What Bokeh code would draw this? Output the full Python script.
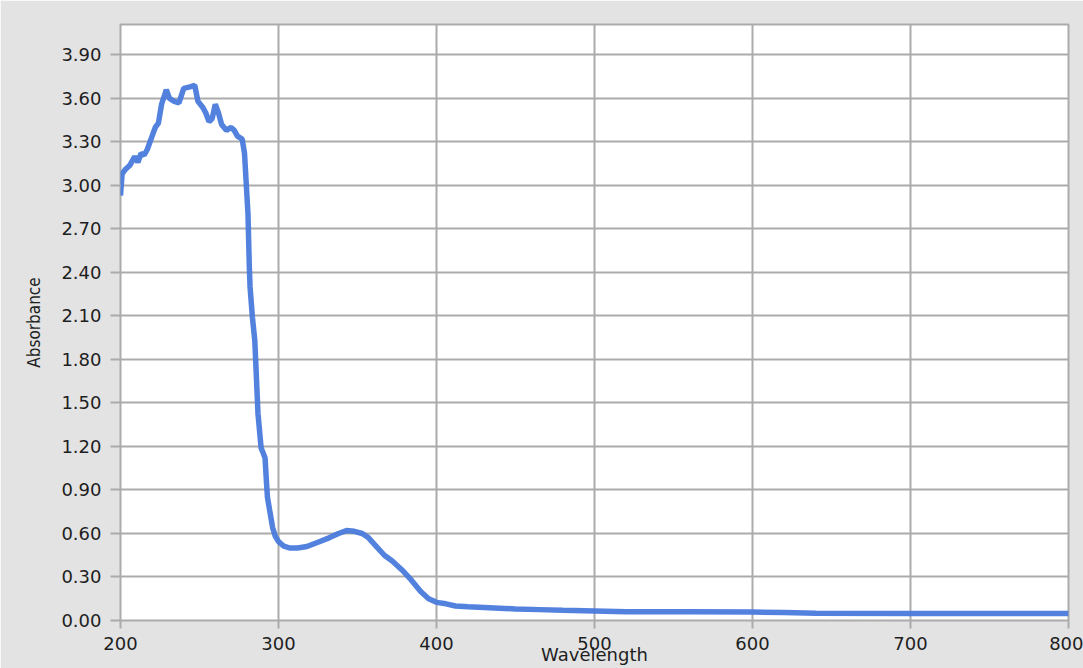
from bokeh.plotting import figure
from bokeh.models import Range1d, FixedTicker, NumeralTickFormatter
from bokeh.embed import file_html
from bokeh.resources import INLINE

wavelength = [200, 201, 203, 206, 209, 211, 213, 215, 217, 220, 222, 224, 226, 229, 231, 234, 237,
              240, 244, 247, 249, 252, 254, 256, 258, 260, 262, 264, 267, 270, 272, 274, 277,
              278.5, 279.7, 280.7, 281.5, 282, 283.5, 285, 286, 287, 289, 290.5, 291.5, 292.3,
              293, 294.4, 296.3, 298, 300, 303, 307, 312, 318, 325, 332, 338, 343, 348, 353,
              357, 362, 367, 372, 378, 384, 390, 395, 400, 406, 412, 420, 430, 440, 450, 465,
              480, 500, 520, 560, 600, 620, 640, 700, 750, 800]
absorbance = [2.93, 3.08, 3.11, 3.14, 3.20, 3.16, 3.22, 3.21, 3.25, 3.34, 3.40, 3.43, 3.56, 3.66,
              3.60, 3.58, 3.57, 3.67, 3.68, 3.69, 3.58, 3.54, 3.50, 3.44, 3.46, 3.56, 3.50, 3.42,
              3.38, 3.40, 3.38, 3.34, 3.32, 3.22, 2.99, 2.80, 2.45, 2.30, 2.09, 1.93, 1.68, 1.43,
              1.19, 1.15, 1.12, 0.97, 0.85, 0.76, 0.64, 0.58, 0.545, 0.515, 0.50, 0.50, 0.51,
              0.54, 0.57, 0.60, 0.62, 0.615, 0.60, 0.57, 0.51, 0.45, 0.41, 0.35, 0.28, 0.20,
              0.15, 0.125, 0.115, 0.10, 0.095, 0.09, 0.085, 0.08, 0.075, 0.07, 0.065, 0.06,
              0.06, 0.058, 0.055, 0.05, 0.048, 0.048, 0.048]
x_ticks = [200, 300, 400, 500, 600, 700, 800]
y_ticks = [0.0, 0.3, 0.6, 0.9, 1.2, 1.5, 1.8, 2.1, 2.4, 2.7, 3.0, 3.3, 3.6, 3.9]
x_title = "Wavelength"
y_title = "Absorbance"

BG = "#e3e3e3"
GRID = "#ababab"
TXT = "#1e1e1e"
FONT = "DejaVu Sans"

p = figure(frame_width=948, frame_height=596, output_backend="svg", toolbar_location=None,
           x_range=Range1d(200, 800), y_range=Range1d(0, 4.11),
           min_border_left=120, min_border_right=15, min_border_top=24, min_border_bottom=48)
p.background_fill_color = "white"
p.border_fill_color = BG
p.outline_line_color = GRID
p.outline_line_width = 2

p.line(wavelength, absorbance, line_color="#4a7bdc", line_width=5.5, line_alpha=0.95)

for ax in (p.xaxis[0], p.yaxis[0]):
    ax.axis_line_color = None
    ax.major_tick_line_color = GRID
    ax.major_tick_line_width = 2
    ax.major_tick_in = 0
    ax.minor_tick_line_color = None
    ax.major_label_text_font = FONT
    ax.major_label_text_font_size = "18px"
    ax.major_label_text_color = TXT
    ax.axis_label_text_color = TXT
    ax.axis_label_text_font_style = "normal"

p.xaxis.ticker = FixedTicker(ticks=x_ticks)
p.yaxis.ticker = FixedTicker(ticks=y_ticks)
p.yaxis.formatter = NumeralTickFormatter(format="0.00")
p.xaxis.major_tick_out = 8
p.yaxis.major_tick_out = 10
p.xaxis.major_label_standoff = 8
p.yaxis.major_label_standoff = 9

p.xaxis.axis_label = x_title
p.xaxis.axis_label_text_font = FONT
p.xaxis.axis_label_text_font_size = "18px"
p.xaxis.axis_label_standoff = -9

p.yaxis.axis_label = y_title
p.yaxis.axis_label_text_font = "Liberation Sans Narrow, DejaVu Sans Condensed, Liberation Sans"
p.yaxis.axis_label_text_font_size = "17px"
p.yaxis.axis_label_standoff = 14

p.xgrid.ticker = FixedTicker(ticks=x_ticks)
p.ygrid.ticker = FixedTicker(ticks=y_ticks)
p.grid.grid_line_color = GRID
p.grid.grid_line_width = 2

open("out.html", "w").write(file_html(p, INLINE))
